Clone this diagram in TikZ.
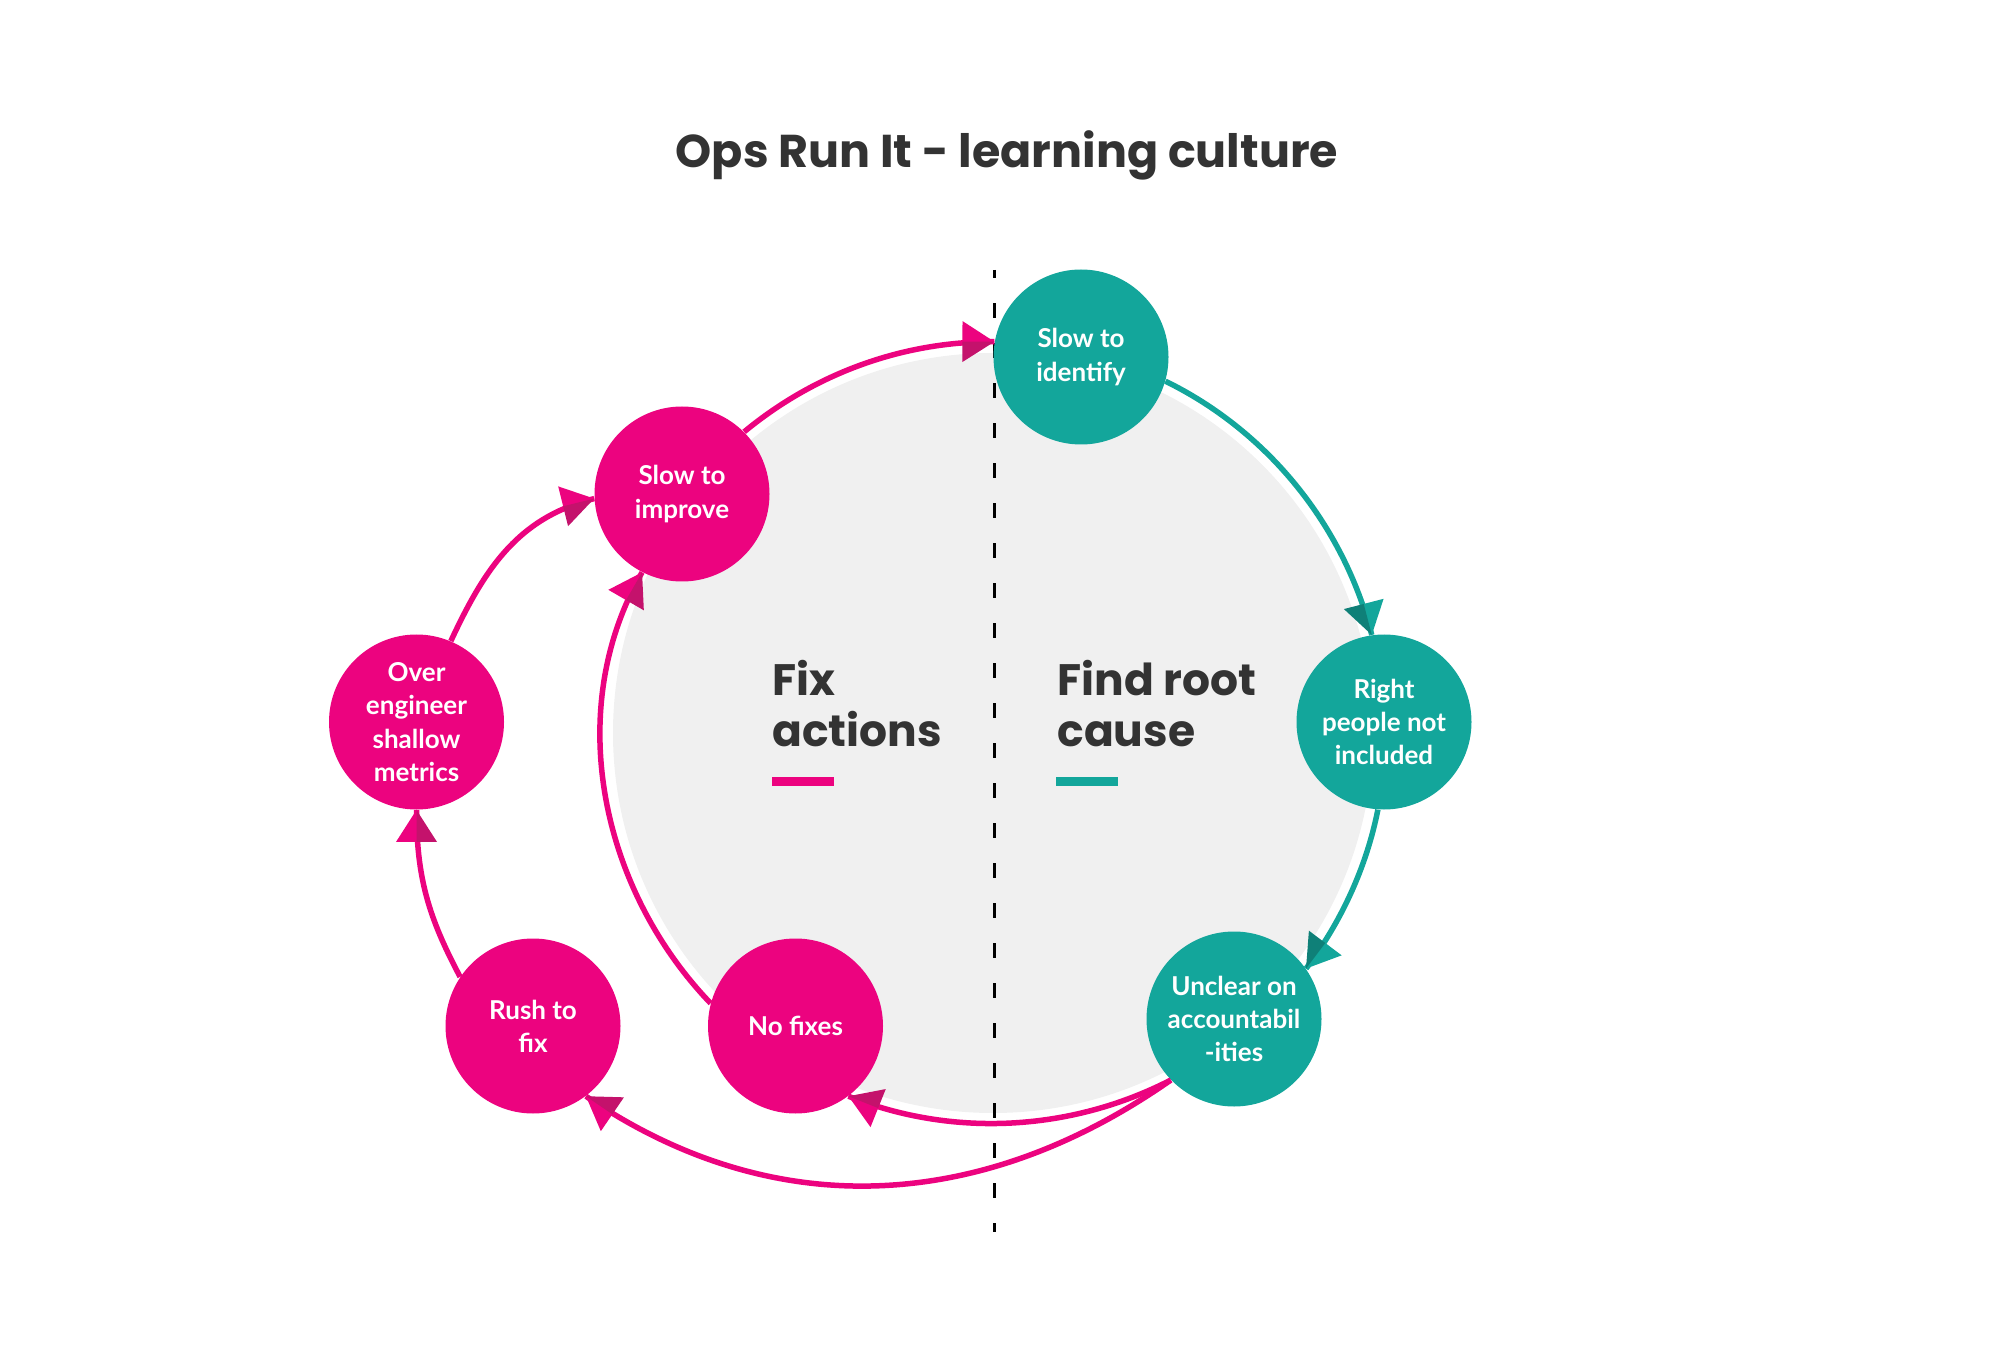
\documentclass[tikz,border=0pt]{standalone}
\usepackage{fontspec}
\setmainfont{Lato}
\newfontfamily\headfont{Poppins}
\usetikzlibrary{decorations.markings}
\definecolor{pinkc}{RGB}{236,3,127}
\definecolor{pinkd}{RGB}{196,18,108}
\definecolor{tealc}{RGB}{19,166,155}
\definecolor{teald}{RGB}{15,128,120}
\definecolor{ringgray}{RGB}{240,240,240}
\definecolor{inkc}{RGB}{51,51,51}
\tikzset{
  bubble/.style={circle, minimum size=87.5pt, inner sep=0pt, text=white, align=center,
    font=\fontsize{13pt}{16.6pt}\selectfont\bfseries},
  pinkbubble/.style={bubble, fill=pinkc},
  tealbubble/.style={bubble, fill=tealc},
  flow/.style 2 args={draw=#1, line width=2.75pt,
    postaction={decorate, decoration={markings, mark=at position 0.9999 with {
      \fill[#1] (0pt,0pt) -- (-16pt,10.25pt) -- (-16pt,0pt) -- cycle;
      \fill[#2] (0pt,0pt) -- (-16pt,-10.25pt) -- (-16pt,0pt) -- cycle;}}}},
  pinkflow/.style={flow={pinkc}{pinkd}},
  tealflow/.style={flow={tealc}{teald}},
  heading/.style={anchor=base west, inner sep=0pt, text=inkc,
    font=\headfont\bfseries\fontsize{22pt}{25.5pt}\selectfont},
  divider/.style={line width=1.5pt, black, dash pattern=on 7.5pt off 12.5pt, dash phase=3.35pt},
}
\begin{document}
\begin{tikzpicture}[x=0.5pt, y=0.5pt]
\useasboundingbox (0,0) rectangle (2013,-1352);
% title
\node[anchor=base, inner sep=0pt, text=inkc, font=\headfont\bfseries\fontsize{23pt}{26pt}\selectfont] (title) at (1007,-168) {Ops Run It - learning culture};
% grey disc
\node[circle, fill=ringgray, minimum size=380pt, inner sep=0pt] (ring) at (993,-733) {};
% divider
\coordinate (dtop) at (994,-270);
\coordinate (dbot) at (994,-1232);
\draw[divider] (dtop) -- (dbot);
% headings
\node[heading] (fixA) at (772,-695) {Fix};
\node[heading] (fixB) at (772,-746) {actions};
\node[heading] (rootA) at (1057,-695) {Find root};
\node[heading] (rootB) at (1057,-746) {cause};
\fill[pinkc] (772,-776.7) rectangle (834,-785.7);
\fill[tealc] (1056,-776.7) rectangle (1117.5,-785.7);
% nodes
\node[tealbubble] (ide) at (1081,-357) {Slow to\\identify};
\node[tealbubble] (rig) at (1384,-722) {Right\\people not\\included};
\node[tealbubble] (unc) at (1234,-1019) {Unclear on\\accountabil\\-ities};
\node[pinkbubble] (imp) at (682,-494) {Slow to\\improve};
\node[pinkbubble] (ove) at (416.5,-722) {Over\\engineer\\shallow\\metrics};
\node[pinkbubble] (rus) at (533,-1026) {Rush to\\fix};
\node[pinkbubble] (nof) at (795.5,-1026) {No fixes};
% connectors
\draw[pinkflow] (imp.45.3) to[out=39.6, in=179.7, looseness=0.88] (ide.170.1);
\draw[tealflow] (ide.-16.5) to[out=-26.1, in=104.5, looseness=0.89] (rig.98.2);
\draw[tealflow] (rig.-94.9) to[out=-101.2, in=53.0, looseness=0.86] (unc.35.4);
\draw[pinkflow] (unc.224.8) to[out=-152.8, in=-21.8, looseness=0.89] (nof.-53.2);
\draw[pinkflow] (nof.165.2) to[out=133.8, in=240, looseness=0.93] (imp.243);
\draw[pinkflow] (unc.224.8) to[out=215, in=325.7] (rus.-53.3);
\draw[pinkflow] (rus.146.4) to[out=118, in=270] (ove.270);
\draw[pinkflow] (ove.67.4) to[out=65, in=193.9] (imp.183.9);
\end{tikzpicture}
\end{document}
